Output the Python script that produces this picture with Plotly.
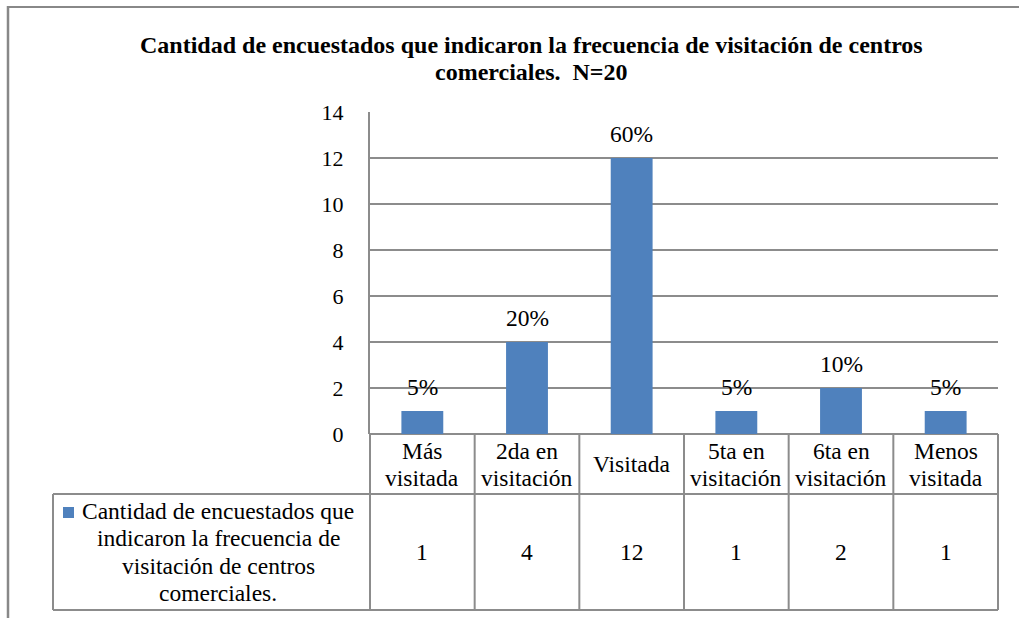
import plotly.graph_objects as go

# data
categories = ["Más visitada", "2da en visitación", "Visitada",
              "5ta en visitación", "6ta en visitación", "Menos visitada"]
header_lines = [["Más", "visitada"], ["2da en", "visitación"], ["Visitada"],
                ["5ta en", "visitación"], ["6ta en", "visitación"], ["Menos", "visitada"]]
counts = [1, 4, 12, 1, 2, 1]
pct_labels = ["5%", "20%", "60%", "5%", "10%", "5%"]
series_lines = ["Cantidad de encuestados que", "indicaron la frecuencia de",
                "visitación de centros", "comerciales."]
title_lines = ["Cantidad de encuestados que indicaron la frecuencia de visitación de centros",
               "comerciales.  N=20"]

W, H = 1019, 618
BLUE = "#4F81BD"
GRID = "#8c8c8c"
FONT = "Liberation Serif"
TXT = dict(family=FONT, size=23.5, color="black")


def px(x):
    return x / W


def py(y):
    return 1 - y / H


# plot area in pixels
X0, X1 = 370, 998
Y_TOP, Y_BOT = 112, 434
HEAD_BOT, TABLE_BOT = 494, 610
LEG_LEFT = 53

fig = go.Figure()


def add_lines(x, y, lines, step, xref, yref, font):
    # stack one annotation per line so the line spacing can be set
    k = len(lines)
    for j, ln in enumerate(lines):
        fig.add_annotation(
            x=x, y=y, xref=xref, yref=yref, text=ln, showarrow=False,
            xanchor="center", yanchor="middle",
            yshift=(k - 1) * step / 2 - j * step, font=font,
        )


fig.add_trace(
    go.Bar(
        x=categories,
        y=counts,
        marker_color=BLUE,
        marker_line_width=0,
        width=0.4,
        showlegend=False,
        hoverinfo="skip",
    )
)

# percent labels above bars
for cat, val, lab in zip(categories, counts, pct_labels):
    fig.add_annotation(
        x=cat, y=val, xref="x", yref="y", text=lab, showarrow=False,
        yanchor="middle", yshift=24, font=TXT,
    )

shapes = []
line_style = dict(color=GRID, width=2)
# outer frame (left and top)
shapes.append(dict(type="line", xref="paper", yref="paper", x0=px(8), x1=px(8),
                   y0=py(6), y1=0, line=dict(color="#888888", width=2.5)))
shapes.append(dict(type="line", xref="paper", yref="paper", x0=px(8), x1=1,
                   y0=py(7), y1=py(7), line=dict(color="#888888", width=2)))

# table lines
n = len(categories)
for i in range(n + 1):
    xx = px(X0 + (X1 - X0) * i / n)
    shapes.append(dict(type="line", xref="paper", yref="paper", x0=xx, x1=xx,
                       y0=py(Y_BOT), y1=py(TABLE_BOT), line=line_style))
shapes.append(dict(type="line", xref="paper", yref="paper", x0=px(LEG_LEFT), x1=px(X1),
                   y0=py(HEAD_BOT), y1=py(HEAD_BOT), line=line_style))
shapes.append(dict(type="line", xref="paper", yref="paper", x0=px(LEG_LEFT), x1=px(X1),
                   y0=py(TABLE_BOT), y1=py(TABLE_BOT), line=line_style))
shapes.append(dict(type="line", xref="paper", yref="paper", x0=px(LEG_LEFT), x1=px(LEG_LEFT),
                   y0=py(HEAD_BOT), y1=py(TABLE_BOT), line=line_style))
# legend key
shapes.append(dict(type="rect", xref="paper", yref="paper", x0=px(63), x1=px(74),
                   y0=py(507), y1=py(518), fillcolor=BLUE, line=dict(width=0)))

# header and value cells
head_mid = py((Y_BOT + HEAD_BOT) / 2)
val_mid = py((HEAD_BOT + TABLE_BOT) / 2)
for cat, lines, val in zip(categories, header_lines, counts):
    add_lines(cat, head_mid, lines, 27, "x", "paper", TXT)
    fig.add_annotation(
        x=cat, y=val_mid, xref="x", yref="paper", text=str(val), showarrow=False,
        yanchor="middle", font=TXT,
    )

# legend text
add_lines(px(218), val_mid, series_lines, 27.5, "paper", "paper", TXT)

# title
add_lines(px(531), py(58.5), ["<b>%s</b>" % t for t in title_lines], 27, "paper", "paper",
          dict(family=FONT, size=24, color="black"))

fig.update_layout(
    width=W,
    height=H,
    margin=dict(l=0, r=0, t=0, b=0, pad=0, autoexpand=False),
    font=dict(family=FONT, color="black"),
    paper_bgcolor="white",
    plot_bgcolor="white",
    shapes=shapes,
    bargap=0.6,
    xaxis=dict(
        domain=[px(X0), px(X1)], range=[-0.5, n - 0.5], type="category",
        showticklabels=False, showgrid=False, zeroline=False, showline=False, ticks="",
        automargin=False,
    ),
    yaxis=dict(
        domain=[py(Y_BOT), py(Y_TOP)], range=[0, 14], dtick=2, tick0=0,
        showgrid=True, gridcolor=GRID, gridwidth=2, zeroline=True, zerolinecolor=GRID,
        zerolinewidth=2, showline=True, linecolor=GRID, linewidth=2, ticks="",
        ticklabelstandoff=20, tickfont=dict(family=FONT, size=22, color="black"),
        automargin=False,
    ),
)

fig.write_html("out.html", config={"displayModeBar": False},
               post_script="document.body.style.margin='0';")
